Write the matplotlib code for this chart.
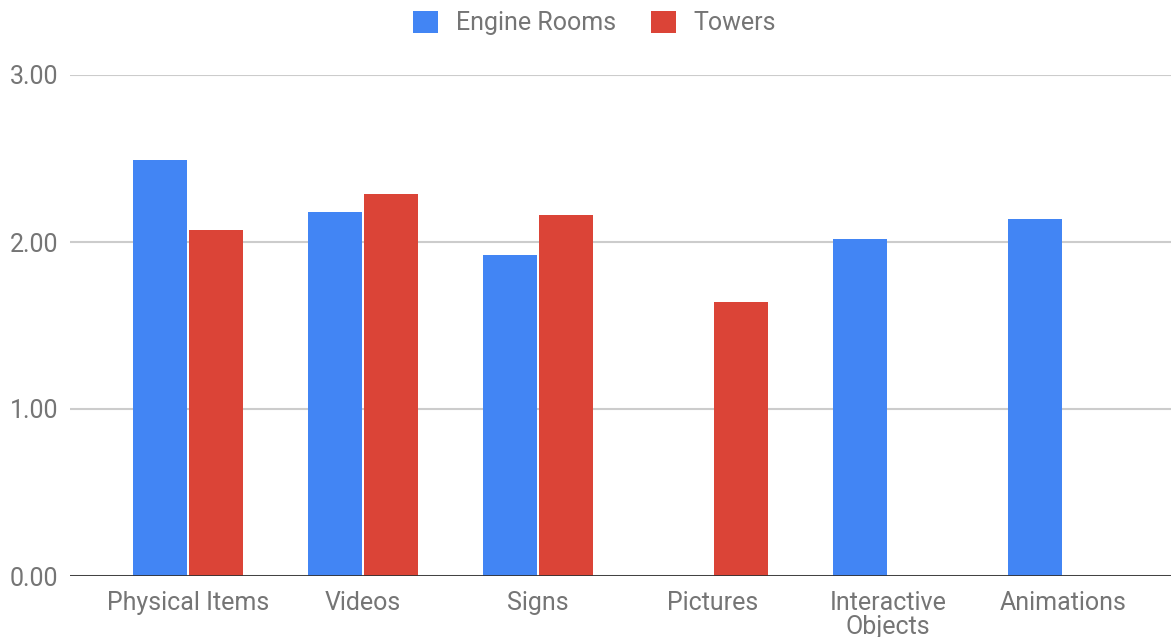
import matplotlib.pyplot as plt
import numpy as np

categories = ["Physical Items", "Videos", "Signs", "Pictures", "Interactive\nObjects", "Animations"]
engine_rooms = [2.49, 2.18, 1.92, 0, 2.02, 2.14]
towers = [2.07, 2.29, 2.16, 1.64, 0, 0]
y_ticks = [0, 1, 2, 3]

BLUE = "#4285F4"
RED = "#DB4437"
TEXT = "#757575"

plt.rcParams["font.family"] = ["Roboto", "DejaVu Sans"]

fig = plt.figure(figsize=(11.71, 6.37), dpi=100)
ax = fig.add_axes([70 / 1171, 1 - 576 / 637, 1 - 70 / 1171, (576 - 75) / 637])

x = np.arange(len(categories))
w = 0.31
ax.bar(x - 0.16, engine_rooms, w, color=BLUE, label="Engine Rooms", zorder=3)
ax.bar(x + 0.16, towers, w, color=RED, label="Towers", zorder=3)

ax.set_xlim(-0.674, 5.617)
ax.set_ylim(0, 3)
ax.set_yticks(y_ticks)
ax.set_yticklabels([f"{v:.2f}" for v in y_ticks])
ax.set_xticks(x)
ax.set_xticklabels(categories, linespacing=1.0)

ax.grid(axis="y", color="#cccccc", linewidth=1.5, zorder=0)
ax.axhline(0, color="#333333", linewidth=2, zorder=4)
for s in ax.spines.values():
    s.set_visible(False)
ax.tick_params(axis="both", length=0, labelsize=18, labelcolor=TEXT)
ax.tick_params(axis="y", pad=8.5)
ax.tick_params(axis="x", pad=10.5)

fig.legend(
    loc="center",
    bbox_to_anchor=(0.5 + 9 / 1171, 1 - 23 / 637),
    ncol=2,
    frameon=False,
    fontsize=18,
    labelcolor=TEXT,
    handlelength=1.0,
    handleheight=1.0,
    handletextpad=0.7,
    columnspacing=1.4,
)

fig.savefig("out.png", dpi=100)
